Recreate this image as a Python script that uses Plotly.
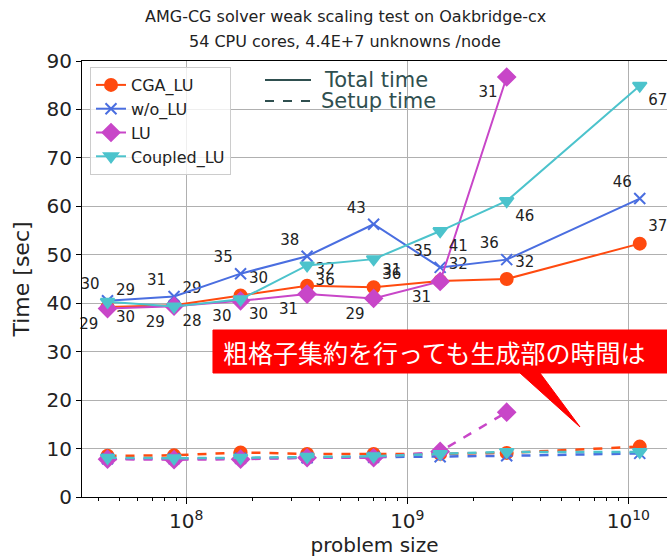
import plotly.graph_objects as go

W, H = 667, 559
ML, MR, MT, MB = 82, 0, 61, 62

nodes = [1, 2, 4, 8, 16, 32, 64, 256]
unknowns_per_node = 4.4e7
problem_size = [unknowns_per_node * n for n in nodes]

cga_total = [39.2, 39.6, 41.6, 43.6, 43.3, 44.6, 45.0, 52.3]
wo_total = [40.5, 41.4, 46.1, 49.7, 56.3, 47.4, 49.0, 61.6]
lu_total = [38.9, 39.4, 40.5, 41.9, 41.0, 44.5, 86.7]
coupled_total = [40.3, 39.3, 40.8, 47.8, 49.1, 54.9, 61.1, 84.9]

cga_setup = [8.5, 8.6, 9.2, 8.9, 8.9, 8.9, 9.1, 10.4]
wo_setup = [7.9, 7.9, 8.0, 8.1, 8.2, 8.3, 8.5, 9.0]
lu_setup = [7.8, 7.7, 7.8, 8.1, 8.1, 9.4, 17.5]
coupled_setup = [8.1, 8.0, 8.1, 8.3, 8.4, 8.9, 9.3, 9.3]

# iteration counts printed next to each point
cga_iter = ["29", "29", "30", "32", "31", "32", "32", "37"]
wo_iter = ["30", "31", "35", "38", "43", "35", "36", "46"]
lu_iter = ["29", "29", "30", "31", "29", "31", "31"]
coupled_iter = ["30", "28", "30", "36", "36", "41", "46", "67"]

series = [
    ("CGA_LU", cga_total, cga_setup, cga_iter, "#ff4a0f", "circle", 12, "top right"),
    ("w/o_LU", wo_total, wo_setup, wo_iter, "#4a6ee0", "x-thin", 11, "top left"),
    ("LU", lu_total, lu_setup, lu_iter, "#c846c8", "diamond", 13, "bottom left"),
    ("Coupled_LU", coupled_total, coupled_setup, coupled_iter, "#4cc3cc", "triangle-down", 12, "bottom right"),
]

FONT = "DejaVu Sans"
minor_vals = [k * 10 ** e for e in range(7, 11) for k in range(2, 10)]

fig = go.Figure()
for name, total, setup, iters, color, symbol, size, tpos in series:
    n = len(total)
    fig.add_trace(go.Scatter(
        x=problem_size[:n], y=total, name=name, mode="lines+markers+text",
        text=iters, textposition=tpos,
        textfont=dict(family=FONT, size=15, color="#222222"),
        line=dict(color=color, width=2),
        marker=dict(symbol=symbol, size=size, color=color,
                    line=dict(color=color, width=2)),
        cliponaxis=False,
    ))
for name, total, setup, iters, color, symbol, size, tpos in series:
    n = len(setup)
    fig.add_trace(go.Scatter(
        x=problem_size[:n], y=setup, name=name + " setup", mode="lines+markers",
        showlegend=False,
        line=dict(color=color, width=2.5, dash="dash"),
        marker=dict(symbol=symbol, size=size, color=color,
                    line=dict(color=color, width=2)),
    ))


def px_x(p):
    return (p - ML) / (W - ML - MR)


def px_y(p):
    return (H - MB - p) / (H - MT - MB)


# title, two lines
for txt, yy in [("AMG-CG solver weak scaling test on Oakbridge-cx", 17),
                ("54 CPU cores, 4.4E+7 unknowns /node", 41)]:
    fig.add_annotation(x=px_x(345), y=px_y(yy), xref="paper", yref="paper",
                       xanchor="center", yanchor="middle", showarrow=False,
                       text=txt, font=dict(family=FONT, size=16, color="#222222"))

# line-style legend drawn by hand
fig.add_shape(type="line", xref="paper", yref="paper",
              x0=px_x(265), x1=px_x(311), y0=px_y(80), y1=px_y(80),
              line=dict(color="#2f4f4f", width=2))
fig.add_shape(type="line", xref="paper", yref="paper",
              x0=px_x(265), x1=px_x(313), y0=px_y(101), y1=px_y(101),
              line=dict(color="#2f4f4f", width=2, dash="dash"))
for txt, xx, yy in [("Total time", 322, 80), ("Setup time", 319, 101)]:
    fig.add_annotation(x=px_x(xx), y=px_y(yy), xref="paper", yref="paper",
                       xanchor="left", yanchor="middle", showarrow=False,
                       text=txt, font=dict(family=FONT, size=21, color="#2f4f4f"))

# red callout box with tail
pts = [(213, 330), (670, 330), (670, 373), (540, 373), (580, 427), (520, 373), (213, 373)]
path = "M " + " L ".join(f"{px_x(a):.4f},{px_y(b):.4f}" for a, b in pts) + " Z"
fig.add_shape(type="path", path=path, xref="paper", yref="paper",
              fillcolor="#ff0000", line=dict(color="#ff0000", width=1), layer="above")
fig.add_annotation(
    x=px_x(221), y=px_y(352), xref="paper", yref="paper",
    xanchor="left", yanchor="middle", showarrow=False,
    text="粗格子集約を行っても生成部の時間は",
    font=dict(family="Noto Sans CJK JP", size=25, color="white"),
)

fig.update_layout(
    width=W, height=H,
    margin=dict(l=ML, r=MR, t=MT, b=MB),
    paper_bgcolor="white", plot_bgcolor="white",
    font=dict(family=FONT, color="#222222"),
    xaxis=dict(
        type="log", range=[7.528, 10.175], automargin=False,
        tickvals=[1e8, 1e9, 1e10],
        ticktext=["10<sup>8</sup>", "10<sup>9</sup>", "10<sup>10</sup>"],
        tickfont=dict(size=20), ticks="outside", ticklen=6, tickcolor="black",
        showline=True, linecolor="black", linewidth=1, mirror=True,
        showgrid=True, gridcolor="#b0b0b0", gridwidth=1, zeroline=False,
        minor=dict(tickmode="array", tickvals=minor_vals, ticks="outside",
                   ticklen=3, tickcolor="black", showgrid=False),
        title=dict(text="problem size", font=dict(size=20), standoff=4),
    ),
    yaxis=dict(
        range=[0, 90], dtick=10, automargin=False,
        tickfont=dict(size=20), ticks="outside", ticklen=5, tickcolor="black",
        showline=True, linecolor="black", linewidth=1,
        showgrid=True, gridcolor="#b0b0b0", gridwidth=1, zeroline=False,
        title=dict(text="Time [sec]", font=dict(size=22), standoff=10),
    ),
    legend=dict(
        x=px_x(90), y=px_y(67), xanchor="left", yanchor="top",
        bgcolor="rgba(255,255,255,0.8)", bordercolor="#cccccc", borderwidth=1,
        font=dict(family=FONT, size=16, color="#222222"),
        tracegroupgap=0,
    ),
)

# drop the page's default body margin so the figure fills the window
fig.write_html(
    "out.html",
    config={"displayModeBar": False},
    post_script="document.body.style.margin='0px';document.body.style.overflow='hidden';",
)
